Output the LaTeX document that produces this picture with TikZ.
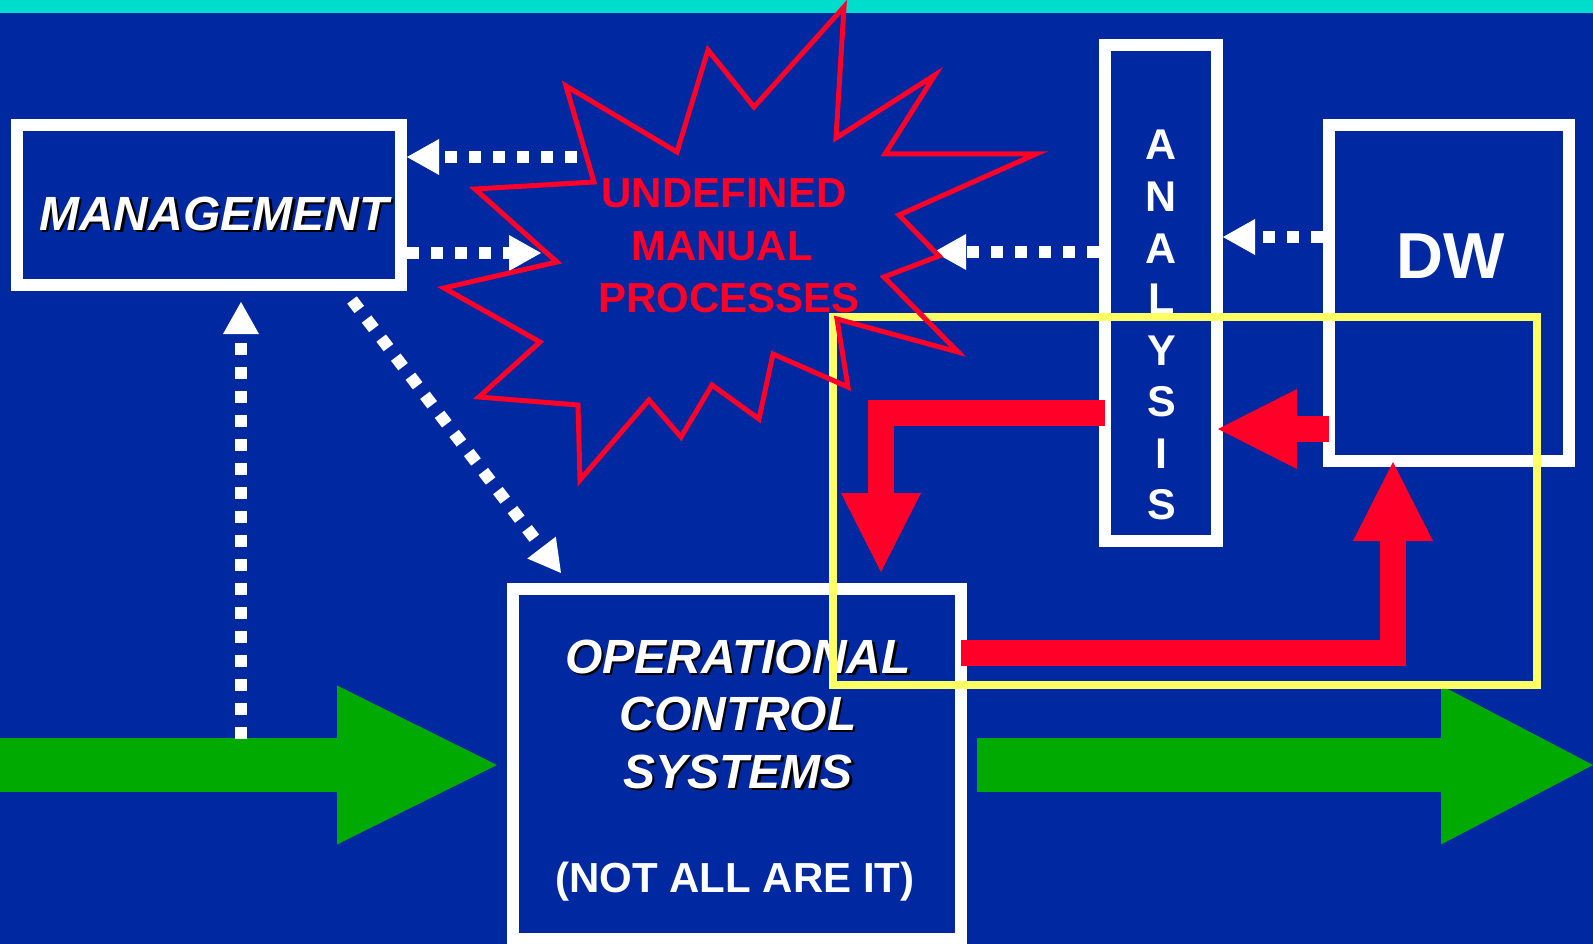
\documentclass[tikz,border=0pt]{standalone}
\usepackage{fontspec}
\setmainfont{Liberation Sans}
\usetikzlibrary{arrows.meta}
\definecolor{bgblue}{RGB}{0,40,160}
\definecolor{tealc}{RGB}{0,221,204}
\definecolor{redc}{RGB}{255,0,40}
\definecolor{yelc}{RGB}{255,255,102}
\definecolor{grnc}{RGB}{0,170,0}
\newcommand{\shd}[1]{\rlap{\kern2.5pt\raisebox{-2.5pt}{\color{black}#1}}#1}
\begin{document}
\begin{tikzpicture}[x=1pt,y=-1pt,
  box/.style={draw=white, line width=12pt, rectangle, inner sep=0pt},
  dotarrow/.style={draw=white, line width=12pt, dash pattern=on 12pt off 12pt, -{Triangle[length=32pt,width=36pt,line width=0pt]}},
  redarrow/.style={draw=redc, line width=26pt, line join=miter, -{Triangle[length=79pt,width=80pt,line width=0pt]}},
  greenarrow/.style={draw=grnc, line width=54pt},
  ittext/.style={text=white, inner sep=0pt, anchor=base, font=\fontsize{48}{48}\selectfont\bfseries\itshape},
  redtext/.style={text=redc, inner sep=0pt, anchor=base, font=\fontsize{42}{42}\selectfont\bfseries},
  lettertext/.style={text=white, inner sep=0pt, anchor=base, font=\fontsize{43}{43}\selectfont\bfseries},
  focusbox/.style={draw=yelc, line width=8pt, rectangle, inner sep=0pt, minimum width=704pt, minimum height=368pt},
  burst/.style={draw=redc, line width=5pt, line join=miter, miter limit=30}
]
\useasboundingbox (0,0) rectangle (1593,944);
\fill[bgblue] (0,0) rectangle (1593,944);
\fill[tealc] (0,0) rectangle (1593,13);

% green flow arrows
\coordinate (gin) at (0,765);
\coordinate (gmid) at (497,765);
\coordinate (gout0) at (977,765);
\coordinate (gout) at (1593,765);
\draw[greenarrow, -{Triangle[length=160pt,width=159pt,line width=0pt]}] (gin) -- (gmid);
\draw[greenarrow, -{Triangle[length=152pt,width=159pt,line width=0pt]}] (gout0) -- (gout);

% boxes
\node[box, minimum width=384pt, minimum height=160pt] (mgmt) at (209,205) {};
\node[box, minimum width=448pt, minimum height=350pt] (ops) at (737,764) {};
\node[box, minimum width=112.5pt, minimum height=496pt] (ana) at (1160.75,293) {};
\node[box, minimum width=240pt, minimum height=336pt] (dw) at (1449,293) {};

% dotted arrows
\coordinate (d1) at (577,157);
\draw[dotarrow] (d1) -- (d1 -| mgmt.east);
\coordinate (d2) at (541,253);
\draw[dotarrow] (d2 -| mgmt.east) -- (d2);
\coordinate (d3) at (1223,237);
\draw[dotarrow] (d3 -| dw.west) -- (d3);
\coordinate (d4) at (934,252);
\draw[dotarrow] (d4 -| ana.west) -- (d4);
\coordinate (d5a) at (241,739);
\coordinate (d5b) at (241,302);
\draw[dotarrow] (d5a) -- (d5b);
\coordinate (d6a) at (352,300);
\coordinate (d6b) at (561,573);
\draw[dotarrow] (d6a) -- (d6b);

% texts
\node[ittext] (mgmtlabel) at (214,230) {\shd{MANAGEMENT}};
\node[ittext] (ops1) at (738,673) {\shd{OPERATIONAL}};
\node[ittext] (ops2) at (738,730) {\shd{CONTROL}};
\node[ittext] (ops3) at (738,788) {\shd{SYSTEMS}};
\node[text=white, inner sep=0pt, anchor=base, font=\fontsize{42}{42}\selectfont\bfseries] (ops4) at (735,892) {(NOT ALL ARE IT)};
\node[text=white, inner sep=0pt, anchor=base, font=\fontsize{65}{65}\selectfont\bfseries] (dwlabel) at (1451,278) {DW};
\foreach \ch/\yy [count=\i] in {A/160,N/212,A/263,L/313,Y/365,S/416,I/468,S/519}
  \node[lettertext] (an\i) at (1161.5,\yy) {\ch};

% focus rectangle
\node[focusbox] (focus) at (1185,501) {};

% starburst
\draw[burst] (1036,154) -- (899,215) -- (939,256) -- (884,277) -- (958,352) -- (837,319)
  -- (848,387) -- (773,354) -- (759,419) -- (712,385) -- (681,437) -- (649,400)
  -- (580,480) -- (578,405) -- (479,397) -- (540,342) -- (444,288) -- (557,262)
  -- (475,189) -- (594,182) -- (566,86) -- (677,152) -- (708,50) -- (754,107)
  -- (844,7) -- (836,138) -- (935,75) -- (885,154) -- cycle;
\node[redtext] (und1) at (724,208) {UNDEFINED};
\node[redtext] (und2) at (722,260) {MANUAL};
\node[redtext] (und3) at (729,312) {PROCESSES};

% red arrows
\coordinate (r1a) at (1105,412.5);
\coordinate (r1b) at (881,412.5);
\coordinate (r1c) at (881,572);
\draw[redarrow] (r1a) -- (r1b) -- (r1c);
\coordinate (r2a) at (1329,429);
\coordinate (r2b) at (1218,429);
\draw[redarrow] (r2a) -- (r2b);
\coordinate (r3a) at (961,653);
\coordinate (r3b) at (1393,653);
\coordinate (r3c) at (1393,462);
\draw[redarrow] (r3a) -- (r3b) -- (r3c);
\end{tikzpicture}
\end{document}
